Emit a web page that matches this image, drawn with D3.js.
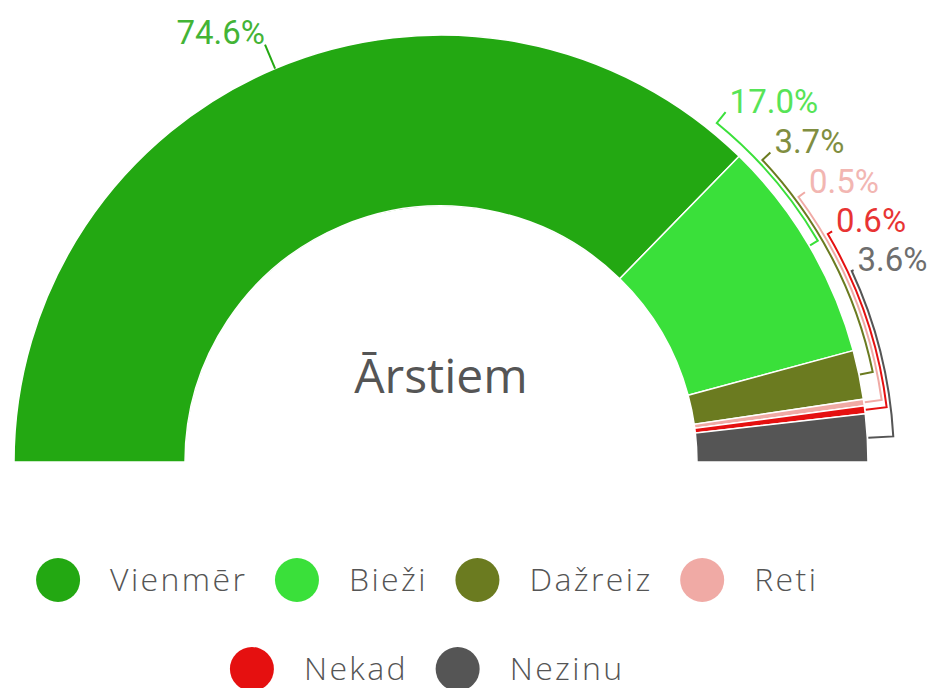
<!DOCTYPE html>
<html>
<head>
<meta charset="utf-8">
<script src="https://cdn.jsdelivr.net/npm/d3@7"></script>
<style>
	html, body { margin: 0; padding: 0; background: #fff; }
	svg { display: block; }
</style>
</head>
<body>
<div id="chart"></div>
<script>
	// data
	const categories = ["Vienmēr", "Bieži", "Dažreiz", "Reti", "Nekad", "Nezinu"];
	const shares = [74.6, 17.0, 3.7, 0.5, 0.6, 3.6];
	const palette = ["#23a812", "#3ae03a", "#6b7b20", "#f0aaa5", "#e51010", "#555555"];
	const legendRows = [["Vienmēr", "Bieži", "Dažreiz", "Reti"], ["Nekad", "Nezinu"]];
	const centerTitle = "Ārstiem";

	const width = 934, height = 688;
	const cx = 441, cy = 462;
	const outerR = 427, innerR = 256;

	const svg = d3.select("#chart").append("svg")
		.attr("width", width).attr("height", height);

	const color = d3.scaleOrdinal().domain(categories).range(palette);

	const pie = d3.pie()
		.sort(null)
		.value(d => d.value)
		.startAngle(-Math.PI / 2)
		.endAngle(Math.PI / 2);

	const rows = categories.map((c, i) => ({name: c, value: shares[i]}));
	const slices = pie(rows);

	const arc = d3.arc().innerRadius(innerR).outerRadius(outerR);

	const g = svg.append("g").attr("transform", `translate(${cx},${cy})`);

	g.selectAll("path.slice")
		.data(slices)
		.join("path")
		.attr("class", "slice")
		.attr("d", arc)
		.attr("fill", d => color(d.data.name))
		.attr("stroke", "#fff")
		.attr("stroke-width", 1.5);

	// polar helper: angle measured clockwise from 12 o'clock
	const pt = (a, r) => [r * Math.sin(a), -r * Math.cos(a)];
	const fmt = d => d.toFixed(1) + "%";

	const labelFont = "Roboto, 'Open Sans', sans-serif";
	const labels = g.append("g");

	// the big slice gets a plain radial leader
	const big = slices[0];
	const bigMid = (big.startAngle + big.endAngle) / 2;
	const [bx0, by0] = pt(bigMid, outerR);
	const [bx1, by1] = pt(bigMid, outerR + 26);
	labels.append("line")
		.attr("x1", bx0).attr("y1", by0).attr("x2", bx1).attr("y2", by1)
		.attr("stroke", color(big.data.name)).attr("stroke-width", 2);
	labels.append("text")
		.attr("x", bx1).attr("y", by1 - 1)
		.attr("text-anchor", "end")
		.attr("font-family", labelFont).attr("font-size", 33)
		.attr("fill", color(big.data.name)).attr("opacity", 0.85)
		.text(fmt(big.data.value));

	// the rest are stacked down the right side with bracket leaders
	const stackTop = 339, stackStep = 37;
	slices.slice(1).forEach((s, k) => {
		const c = color(s.data.name);
		const r = outerR + 10 + k * 4;
		const tickOut = 14 - 3 * k;
		const mid = (s.startAngle + s.endAngle) / 2;
		const dy = stackTop - k * stackStep;
		const a0 = Math.acos(dy / r);
		const p = d3.path();
		const [ox, oy] = pt(a0, r + tickOut);
		p.moveTo(ox, oy);
		const [sx, sy] = pt(a0, r);
		p.lineTo(sx, sy);
		p.arc(0, 0, r, a0 - Math.PI / 2, mid - Math.PI / 2, false);
		const [ix, iy] = pt(mid, outerR + 1);
		p.lineTo(ix, iy);
		labels.append("path")
			.attr("d", p.toString())
			.attr("fill", "none").attr("stroke", "#fff")
			.attr("stroke-width", 4).attr("stroke-opacity", 0.9);
		labels.append("path")
			.attr("d", p.toString())
			.attr("fill", "none").attr("stroke", c)
			.attr("stroke-width", 2);
		labels.append("text")
			.attr("x", ox + 4).attr("y", oy + 1)
			.attr("font-family", labelFont).attr("font-size", 33)
			.attr("fill", c).attr("opacity", 0.85)
			.text(fmt(s.data.value));
	});

	g.append("text")
		.attr("x", 0).attr("y", 393 - cy)
		.attr("text-anchor", "middle")
		.attr("font-family", "'Open Sans', sans-serif")
		.attr("font-size", 48)
		.attr("fill", "#555")
		.text(centerTitle);

	// legend, two centred rows
	const legend = svg.append("g");
	const dotR = 22, gap = 30, rowY = [580, 669];
	legendRows.forEach((names, ri) => {
		const row = legend.append("g");
		let x = 0;
		names.forEach(n => {
			const item = row.append("g").attr("transform", `translate(${x},${rowY[ri]})`);
			item.append("circle")
				.attr("cx", dotR).attr("cy", 0).attr("r", dotR)
				.attr("fill", color(n));
			const t = item.append("text")
				.attr("x", 2 * dotR + gap).attr("y", 0)
				.attr("dy", "0.35em")
				.attr("font-family", "'Open Sans', sans-serif")
				.attr("font-weight", 300)
				.attr("font-size", 32)
				.attr("letter-spacing", 2.4)
				.attr("fill", "#555")
				.text(n);
			x += 2 * dotR + gap + t.node().getComputedTextLength() + gap - 2.4;
		});
		row.attr("transform", `translate(${cx - x / 2},0)`);
	});
</script>
</body>
</html>
